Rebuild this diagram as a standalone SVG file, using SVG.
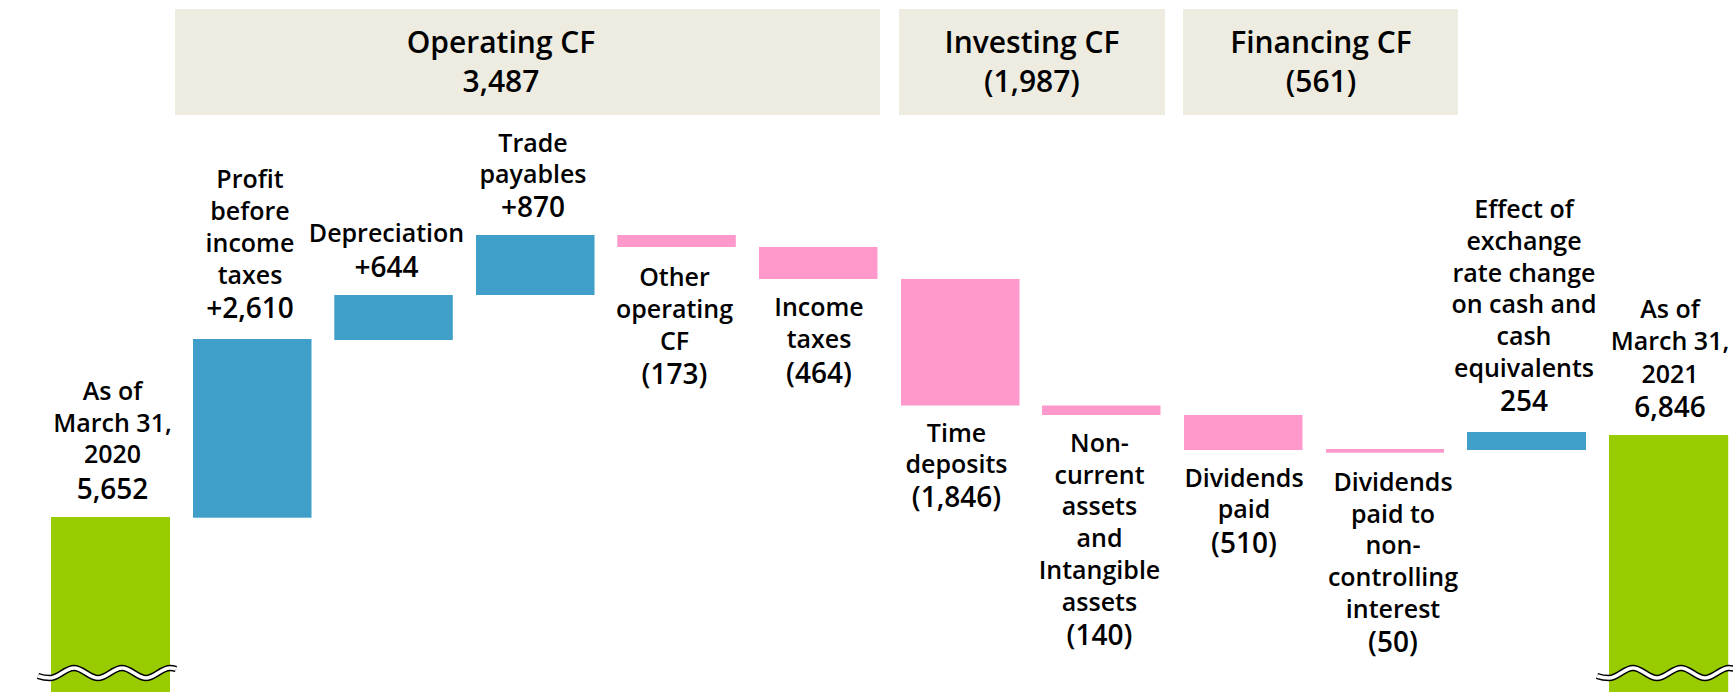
<svg xmlns="http://www.w3.org/2000/svg" width="1733" height="692" viewBox="0 0 1733 692">
<style>
.hdr{fill:#EEECE1}
.hdrt{font-family:"Open Sans","Liberation Sans",sans-serif;font-weight:600;font-size:30px;fill:#000;text-anchor:middle}
.lbl{font-family:"Open Sans","Liberation Sans",sans-serif;font-weight:600;font-size:25px;fill:#000;text-anchor:middle}
.num{font-size:28px}
.pos{fill:#3F9FC9}
.neg{fill:#FF99CC}
.tot{fill:#99CC00}
.wave-o{fill:none;stroke:#000;stroke-width:6.5}
.wave-i{fill:none;stroke:#fff;stroke-width:3.5}
</style>
<defs>
<path id="wave" d="M38,676 Q44,678 50,678 C58.7,678 65.3,668 74,668 C82.7,668 89.3,678 98,678 C106.7,678 113.3,668 122,668 C130.7,668 137.3,678 146,678 C154.7,678 161.3,668 170,668 Q173,668 176,669"/>
</defs>
<rect width="1733" height="692" fill="#fff"/>

<g id="header-operating">
<rect class="hdr" x="175" y="9" width="705" height="106"/>
<text class="hdrt" x="501" y="53">Operating CF</text>
<text class="hdrt" x="501" y="91.5">3,487</text>
</g>
<g id="header-investing">
<rect class="hdr" x="899" y="9" width="266" height="106"/>
<text class="hdrt" x="1032" y="53">Investing CF</text>
<text class="hdrt" x="1032" y="91.5">(1,987)</text>
</g>
<g id="header-financing">
<rect class="hdr" x="1183" y="9" width="275" height="106"/>
<text class="hdrt" x="1321" y="53">Financing CF</text>
<text class="hdrt" x="1321" y="91.5">(561)</text>
</g>

<g id="connectors"></g>

<g id="start-2020">
<rect class="tot" x="51" y="517" width="119" height="175"/>
<use href="#wave" class="wave-o"/>
<use href="#wave" class="wave-i"/>
<text class="lbl" x="112.5" y="400">As of</text>
<text class="lbl" x="112.5" y="431.7">March 31,</text>
<text class="lbl" x="112.5" y="463.3">2020</text>
<text class="lbl num" x="112.5" y="499">5,652</text>
</g>

<g id="profit">
<rect class="pos" x="193" y="339" width="118.5" height="178.7"/>
<text class="lbl" x="250" y="188.3">Profit</text>
<text class="lbl" x="250" y="220">before</text>
<text class="lbl" x="250" y="251.7">income</text>
<text class="lbl" x="250" y="284">taxes</text>
<text class="lbl num" x="250" y="318.3">+2,610</text>
</g>

<g id="depreciation">
<rect class="pos" x="334.3" y="295" width="118.5" height="45"/>
<text class="lbl" x="386.5" y="241.7">Depreciation</text>
<text class="lbl num" x="386.5" y="276.7">+644</text>
</g>

<g id="trade-payables">
<rect class="pos" x="476" y="235" width="118.5" height="60"/>
<text class="lbl" x="533" y="151.7">Trade</text>
<text class="lbl" x="533" y="182.7">payables</text>
<text class="lbl num" x="533" y="217.3">+870</text>
</g>

<g id="other-operating">
<rect class="neg" x="617.3" y="235" width="118.5" height="12"/>
<text class="lbl" x="674.5" y="286">Other</text>
<text class="lbl" x="674.5" y="317.7">operating</text>
<text class="lbl" x="674.5" y="349.5">CF</text>
<text class="lbl num" x="674.5" y="383.5">(173)</text>
</g>

<g id="income-taxes">
<rect class="neg" x="759" y="247" width="118.5" height="32"/>
<text class="lbl" x="819" y="316">Income</text>
<text class="lbl" x="819" y="347.7">taxes</text>
<text class="lbl num" x="819" y="382.5">(464)</text>
</g>

<g id="time-deposits">
<rect class="neg" x="901" y="279" width="118.5" height="126.5"/>
<text class="lbl" x="956.5" y="441.7">Time</text>
<text class="lbl" x="956.5" y="473.3">deposits</text>
<text class="lbl num" x="956.5" y="507">(1,846)</text>
</g>

<g id="non-current">
<rect class="neg" x="1042" y="405.5" width="118.5" height="9.5"/>
<text class="lbl" x="1099.5" y="452">Non-</text>
<text class="lbl" x="1099.5" y="483.7">current</text>
<text class="lbl" x="1099.5" y="515.3">assets</text>
<text class="lbl" x="1099.5" y="547">and</text>
<text class="lbl" x="1099.5" y="578.7">Intangible</text>
<text class="lbl" x="1099.5" y="610.5">assets</text>
<text class="lbl num" x="1099.5" y="644.5">(140)</text>
</g>

<g id="dividends-paid">
<rect class="neg" x="1184" y="415" width="118.5" height="35"/>
<text class="lbl" x="1244" y="486.7">Dividends</text>
<text class="lbl" x="1244" y="518.3">paid</text>
<text class="lbl num" x="1244" y="552.6">(510)</text>
</g>

<g id="dividends-nci">
<rect class="neg" x="1326" y="449" width="118" height="3.7"/>
<text class="lbl" x="1393" y="490.7">Dividends</text>
<text class="lbl" x="1393" y="522.5">paid to</text>
<text class="lbl" x="1393" y="554.3">non-</text>
<text class="lbl" x="1393" y="586.1">controlling</text>
<text class="lbl" x="1393" y="617.9">interest</text>
<text class="lbl num" x="1393" y="652.2">(50)</text>
</g>

<g id="fx-effect">
<rect class="pos" x="1467" y="432" width="119" height="18"/>
<text class="lbl" x="1524" y="218.3">Effect of</text>
<text class="lbl" x="1524" y="250">exchange</text>
<text class="lbl" x="1524" y="281.7">rate change</text>
<text class="lbl" x="1524" y="313.3">on cash and</text>
<text class="lbl" x="1524" y="345.3">cash</text>
<text class="lbl" x="1524" y="377">equivalents</text>
<text class="lbl num" x="1524" y="411">254</text>
</g>

<g id="end-2021">
<rect class="tot" x="1609" y="435" width="119.2" height="257"/>
<use href="#wave" class="wave-o" transform="translate(1559,0)"/>
<use href="#wave" class="wave-i" transform="translate(1559,0)"/>
<text class="lbl" x="1670" y="318.3">As of</text>
<text class="lbl" x="1670" y="350">March 31,</text>
<text class="lbl" x="1670" y="382.7">2021</text>
<text class="lbl num" x="1670" y="416.7">6,846</text>
</g>
</svg>
